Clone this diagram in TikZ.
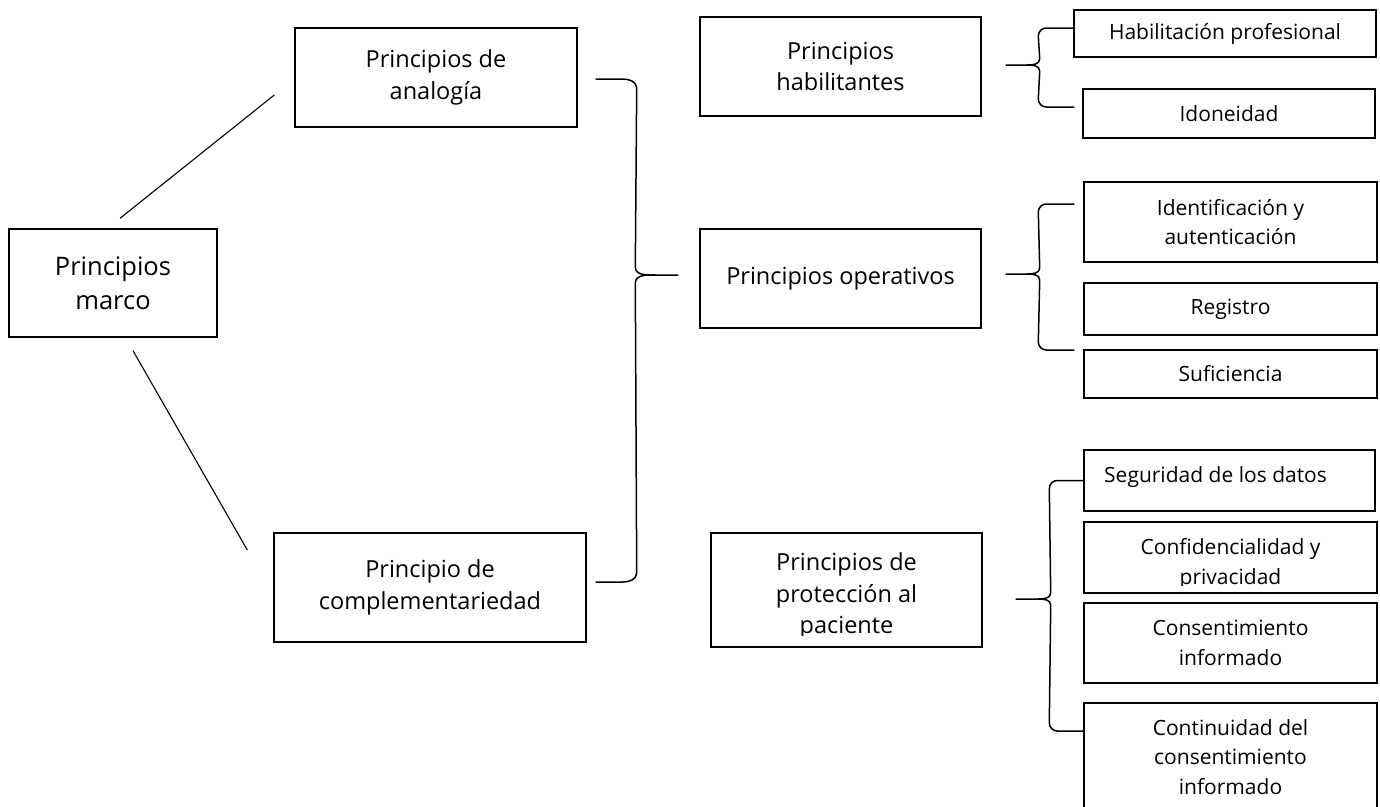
\documentclass[tikz,border=0pt]{standalone}
\usepackage{fontspec}
\setmainfont{Open Sans}
\usetikzlibrary{calc}

\begin{document}
\begin{tikzpicture}[x=1pt,y=-1pt,
  cbox/.style={draw, line width=1.4pt, align=center, inner sep=0pt},
  bigtxt/.style={font=\fontsize{25.5}{34}\selectfont},
  midtxt/.style={font=\fontsize{23.5}{31.5}\selectfont},
  smalltxt/.style={font=\fontsize{21}{29.5}\selectfont},
  brace/.style={line width=1.5pt},
  link/.style={line width=1.1pt}]
  \useasboundingbox (0,0) rectangle (1380,806);

  % root
  \node[cbox, bigtxt, minimum width=208pt, minimum height=108pt] (marco) at (113,283) {Principios\\marco};

  % level 1
  \node[cbox, midtxt, minimum width=282pt, minimum height=99pt] (analogia) at (436,77.5) {Principios de\\analogía};
  \node[cbox, midtxt, minimum width=312pt, minimum height=109pt] (compl) at (430,587.5) {Principio de\\complementariedad};

  % level 2
  \node[cbox, midtxt, minimum width=281pt, minimum height=99pt] (habilit) at (840.5,66.5) {Principios\\habilitantes};
  \node[cbox, midtxt, minimum width=281pt, minimum height=99pt] (operat) at (840.5,278.5) {Principios operativos};
  \node[cbox, minimum width=271pt, minimum height=114pt] (protec) at (846.5,590) {};
  \begin{scope}
    \clip (711,533) rectangle (982,635);
    \node[midtxt, align=center] (protectxt) at (846.5,596) {Principios de\\protección al\\paciente};
  \end{scope}

  % level 3
  \node[cbox, smalltxt, minimum width=302pt, minimum height=47pt] (habprof) at (1225,33.5) {Habilitación profesional};
  \node[cbox, smalltxt, minimum width=292pt, minimum height=49pt] (idon) at (1229,113.5) {Idoneidad};

  \node[cbox, smalltxt, minimum width=293pt, minimum height=80pt] (ident) at (1230.5,222) {Identificación y\\autenticación};
  \node[cbox, smalltxt, minimum width=293pt, minimum height=52pt] (regis) at (1230.5,309) {Registro};
  \node[cbox, smalltxt, minimum width=293pt, minimum height=48pt] (sufic) at (1230.5,374) {Suficiencia};

  \node[cbox, minimum width=291pt, minimum height=61pt] (segur) at (1229.5,480.5) {};
  \node[smalltxt, inner sep=0pt, anchor=west] (segurtxt) at (1104,477) {Seguridad de los datos};
  \node[cbox, minimum width=293pt, minimum height=71pt] (confid) at (1230.5,557.5) {};
  \begin{scope}
    \clip (1084,522) rectangle (1377,585);
    \node[smalltxt, align=center] (confidtxt) at (1230.5,564) {Confidencialidad y\\privacidad};
  \end{scope}
  \node[cbox, smalltxt, minimum width=293pt, minimum height=80pt] (consent) at (1230.5,643) {Consentimiento\\informado};
  \node[cbox, smalltxt, minimum width=293pt, minimum height=108pt] (contin) at (1230.5,757) {Continuidad del\\consentimiento\\informado};

  % root to level 1
  \draw[link] ($(marco.north)+(7,-10)$) -- ($(analogia.west)+(-20,17.5)$);
  \draw[link] ($(marco.south)+(20,13)$) -- ($(compl.west)+(-26,-37.5)$);

  % level 1 to level 2
  \coordinate (t1) at ($(analogia.east)+(18,1.5)$);
  \coordinate (b1) at ($(compl.east)+(9,-5.5)$);
  \coordinate (m1) at ($(operat.west)+(-21,-3.5)$);
  \draw[brace] (t1) -- ($(t1)+(27,0)$) to[out=0,in=90] ($(t1)+(41,9)$)
    -- ($(m1)+(-43,-8)$) to[out=-90,in=180] ($(m1)+(-22,0)$) -- (m1)
    -- ($(m1)+(-22,0)$) to[out=180,in=90] ($(m1)+(-43,8)$)
    -- ($(b1)+(41,-9)$) to[out=-90,in=0] ($(b1)+(27,0)$) -- (b1);

  % level 2 to level 3
  \coordinate (t2) at ($(habprof.west)+(0,-5.5)$);
  \coordinate (b2) at ($(idon.west)+(-8,-6.5)$);
  \coordinate (m2) at ($(habilit.east)+(24,-1.5)$);
  \draw[brace] (t2) -- ($(t2)+(-27,0)$) to[out=180,in=90] ($(t2)+(-35,8)$)
    -- ($(m2)+(34,-6)$) to[out=-90,in=0] ($(m2)+(21,0)$) -- (m2)
    -- ($(m2)+(21,0)$) to[out=0,in=90] ($(m2)+(34,6)$)
    -- ($(b2)+(-36,-8)$) to[out=-90,in=180] ($(b2)+(-28,0)$) -- (b2);

  \coordinate (t3) at ($(ident.west)+(-9,-18)$);
  \coordinate (b3) at ($(sufic.west)+(-9,-24)$);
  \coordinate (m3) at ($(operat.east)+(24,-4.5)$);
  \draw[brace] (t3) -- ($(t3)+(-28,0)$) to[out=180,in=90] ($(t3)+(-36,8)$)
    -- ($(m3)+(34,-6)$) to[out=-90,in=0] ($(m3)+(21,0)$) -- (m3)
    -- ($(m3)+(21,0)$) to[out=0,in=90] ($(m3)+(34,6)$)
    -- ($(b3)+(-36,-8)$) to[out=-90,in=180] ($(b3)+(-28,0)$) -- (b3);

  \coordinate (t4) at (segur.west);
  \coordinate (b4) at ($(contin.west)+(0,-26)$);
  \coordinate (m4) at ($(protec.east)+(33,9)$);
  \draw[brace] (t4) -- ($(t4)+(-26,0)$) to[out=180,in=90] ($(t4)+(-34,8)$)
    -- ($(m4)+(35,-6)$) to[out=-90,in=0] ($(m4)+(22,0)$) -- (m4)
    -- ($(m4)+(22,0)$) to[out=0,in=90] ($(m4)+(35,6)$)
    -- ($(b4)+(-34,-8)$) to[out=-90,in=180] ($(b4)+(-26,0)$) -- (b4);
\end{tikzpicture}
\end{document}
